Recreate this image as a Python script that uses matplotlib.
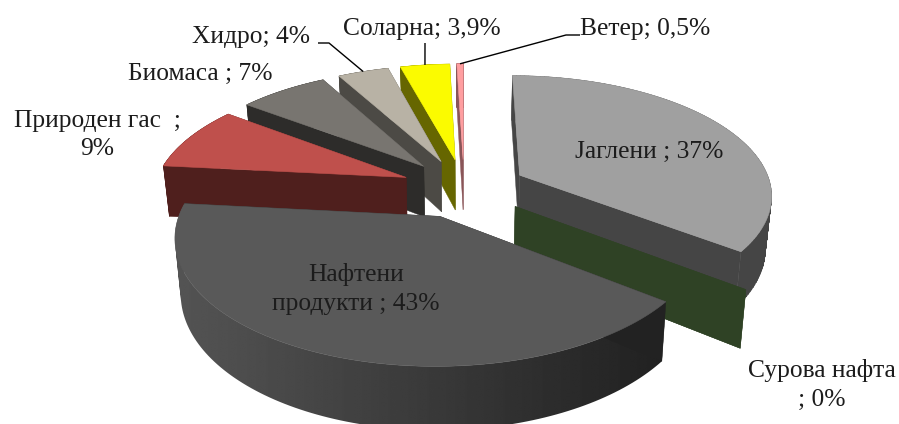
import numpy as np
import matplotlib
matplotlib.use("Agg")
import matplotlib.pyplot as plt
from matplotlib.patches import PathPatch
from matplotlib.path import Path

# ---- data (in pie order, clockwise from 12 o'clock)
names = ["Јаглени", "Сурова нафта", "Нафтени продукти", "Природен гас",
         "Биомаса", "Хидро", "Соларна", "Ветер"]
values = [37, 0, 43, 9, 7, 4, 3.9, 0.5]
labels = ["Јаглени ; 37%", "Сурова нафта\n; 0%", "Нафтени\nпродукти ; 43%",
          "Природен гас  ;\n9%", "Биомаса ; 7%", "Хидро; 4%",
          "Соларна; 3,9%", "Ветер; 0,5%"]
label_pos = [(649, 152), (822, 385), (356, 289), (97, 135),
             (200, 74), (251, 37), (422, 29), (645, 29)]
top_colors = ["#a0a0a0", "#3a5230", "#595959", "#bf504c",
              "#787570", "#b8b2a5", "#fbfb00", "#ff9ea0"]
wall_colors = ["#454545", "#2f4225", "#222222", "#4f1f1d",
               "#2d2c2a", "#4c4a45", "#666600", "#8a5558"]

# ---- pie geometry
CX, CY = 464, 188
RX, RY = 252, 118
PERSP = 0.15
EXPLODE = 0.25
DEPTH = 52
CONVERGE = 0.98


def project(u, v, bottom=False):
    w = 1 + PERSP * v
    x = RX * u / w
    y = CY - RY * v / w
    if bottom:
        return CX + x * CONVERGE, y + DEPTH / w
    return CX + x, y


def slice_xy(a0, a1, radius=1.0, n=120):
    mid = (a0 + a1) / 2
    ou, ov = EXPLODE * np.sin(mid), EXPLODE * np.cos(mid)
    th = np.linspace(a0, a1, n)
    return ou, ov, ou + radius * np.sin(th), ov + radius * np.cos(th)


def rim_path(tx, ty, bx, by):
    """Union of the small side quads, all wound the same way."""
    verts, codes = [], []
    for k in range(len(tx) - 1):
        q = [(tx[k], ty[k]), (tx[k + 1], ty[k + 1]),
             (bx[k + 1], by[k + 1]), (bx[k], by[k])]
        xs, ys = zip(*q)
        area = sum(xs[j] * ys[(j + 1) % 4] - xs[(j + 1) % 4] * ys[j] for j in range(4))
        if area < 0:
            q = q[::-1]
        verts += q + [q[0]]
        codes += [Path.MOVETO, Path.LINETO, Path.LINETO, Path.LINETO, Path.CLOSEPOLY]
    return Path(verts, codes)


fig = plt.figure(figsize=(8.99, 4.24), dpi=100)
ax = fig.add_axes([0, 0, 1, 1])

total = sum(values)
edges = np.concatenate([[0], np.cumsum(values)]) / total * 2 * np.pi
paint_order = [7, 6, 5, 4, 3, 0, 1, 2]
OIL = 2

for z, i in enumerate(paint_order):
    a0, a1 = edges[i], edges[i + 1]
    ou, ov, us, vs = slice_xy(a0, a1)
    tx, ty = project(us, vs)
    bx, by = project(us, vs, bottom=True)
    ax_, ay_ = project(ou, ov)
    bax, bay = project(ou, ov, bottom=True)
    base = z * 10 + 1
    wc = wall_colors[i]
    # outer rim
    if a1 > a0:
        path = rim_path(tx, ty, bx, by)
        if i == OIL:
            grad = np.linspace(0.33, 0.13, 256)[None, :]
            im = ax.imshow(grad, cmap="gray", vmin=0, vmax=1, aspect="auto",
                           extent=(175, 665, 424, 200), zorder=base,
                           interpolation="bilinear")
            patch = PathPatch(path, transform=ax.transData,
                              facecolor="none", edgecolor="none")
            ax.add_patch(patch)
            im.set_clip_path(patch)
        else:
            ax.add_patch(PathPatch(path, facecolor=wc, edgecolor=wc,
                                   linewidth=0.3, zorder=base))
    # radial cut faces
    ax.fill([ax_, tx[0], bx[0], bax], [ay_, ty[0], by[0], bay],
            facecolor=wc, edgecolor=wc, linewidth=0.3, zorder=base + 1)
    ax.fill([ax_, tx[-1], bx[-1], bax], [ay_, ty[-1], by[-1], bay],
            facecolor=wc, edgecolor=wc, linewidth=0.3, zorder=base + 1)
    # top
    if a1 > a0:
        ax.fill(np.r_[ax_, tx], np.r_[ay_, ty], facecolor=top_colors[i],
                edgecolor=top_colors[i], linewidth=0.4, zorder=base + 2)

# ---- leader lines, ending on the rim of the slice they point to
leaders = {5: [(318, 43), (329, 43)], 6: [(425, 43)], 7: [(580, 35), (566, 35)]}
for i, pts in leaders.items():
    mid = (edges[i] + edges[i + 1]) / 2
    _, _, u, v = slice_xy(mid, mid, n=1)
    ex, ey = project(u[0], v[0])
    xs = [p[0] for p in pts] + [ex]
    ys = [p[1] for p in pts] + [ey]
    ax.plot(xs, ys, color="black", lw=1.0, zorder=200, solid_capstyle="butt")

for text, (x, y) in zip(labels, label_pos):
    ax.text(x, y, text, ha="center", va="center", family="Liberation Serif",
            fontsize=18.4, color="#1c1c1c", linespacing=1.4, zorder=300)

ax.set_xlim(0, 899)
ax.set_ylim(424, 0)
ax.axis("off")

fig.savefig("out.png", dpi=100, facecolor="white")
